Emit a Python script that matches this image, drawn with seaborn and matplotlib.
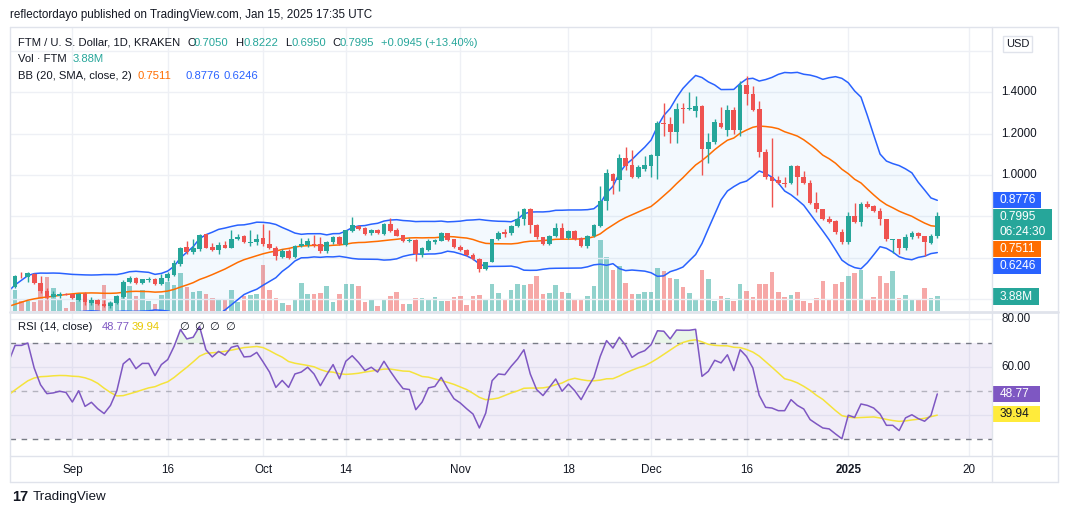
import numpy as np
import pandas as pd
import matplotlib
matplotlib.use("Agg")
import matplotlib.pyplot as plt
from matplotlib.patches import Rectangle
from matplotlib.lines import Line2D
import seaborn as sns

sns.set_theme(style="white")
plt.rcParams['font.family'] = ['Liberation Sans', 'DejaVu Sans']

# ---------------- data ----------------
start_date = "2024-08-23"

opens = [0.460, 0.513, 0.508, 0.521, 0.476, 0.440, 0.412, 0.416, 0.425, 0.423,
         0.397, 0.425, 0.383, 0.395, 0.376, 0.366, 0.383, 0.410, 0.483, 0.502,
         0.478, 0.494, 0.497, 0.474, 0.500, 0.518, 0.570, 0.652, 0.627, 0.640,
         0.713, 0.652, 0.635, 0.660, 0.648, 0.690, 0.703, 0.673, 0.675, 0.697,
         0.665, 0.646, 0.602, 0.632, 0.605, 0.656, 0.660, 0.668, 0.666, 0.630,
         0.675, 0.702, 0.662, 0.730, 0.755, 0.745, 0.718, 0.733, 0.716, 0.762,
         0.732, 0.708, 0.682, 0.684, 0.615, 0.638, 0.678, 0.683, 0.718, 0.688,
         0.652, 0.636, 0.614, 0.596, 0.545, 0.580, 0.688, 0.722, 0.717, 0.755,
         0.787, 0.835, 0.760, 0.698, 0.667, 0.703, 0.745, 0.693, 0.730, 0.693,
         0.658, 0.705, 0.755, 0.876, 1.005, 0.976, 1.080, 1.047, 0.992, 1.030,
         1.045, 1.093, 1.253, 1.248, 1.210, 1.322, 1.318, 1.312, 1.335, 1.124,
         1.160, 1.253, 1.220, 1.314, 1.220, 1.435, 1.390, 1.318, 1.110, 0.990,
         0.975, 0.962, 0.960, 1.043, 0.992, 0.963, 0.866, 0.835, 0.787, 0.776,
         0.726, 0.676, 0.800, 0.775, 0.862, 0.848, 0.826, 0.785, 0.686, 0.689,
         0.648, 0.702, 0.721, 0.703, 0.672, 0.705]
highs = [0.515, 0.529, 0.532, 0.524, 0.510, 0.452, 0.437, 0.433, 0.428, 0.426,
         0.430, 0.435, 0.410, 0.398, 0.395, 0.390, 0.420, 0.490, 0.512, 0.505,
         0.498, 0.505, 0.500, 0.520, 0.530, 0.588, 0.652, 0.680, 0.690, 0.715,
         0.716, 0.670, 0.675, 0.680, 0.735, 0.715, 0.708, 0.735, 0.715, 0.762,
         0.735, 0.655, 0.640, 0.640, 0.660, 0.696, 0.697, 0.710, 0.700, 0.680,
         0.705, 0.705, 0.735, 0.798, 0.760, 0.748, 0.740, 0.737, 0.766, 0.790,
         0.742, 0.712, 0.697, 0.688, 0.650, 0.690, 0.690, 0.726, 0.720, 0.692,
         0.660, 0.640, 0.625, 0.600, 0.580, 0.692, 0.730, 0.737, 0.760, 0.827,
         0.840, 0.838, 0.765, 0.702, 0.710, 0.766, 0.766, 0.735, 0.735, 0.700,
         0.710, 0.765, 0.947, 1.027, 1.010, 1.100, 1.134, 1.120, 1.050, 1.090,
         1.100, 1.260, 1.350, 1.280, 1.350, 1.350, 1.400, 1.380, 1.340, 1.205,
         1.270, 1.330, 1.340, 1.330, 1.456, 1.479, 1.430, 1.360, 1.125, 1.180,
         0.995, 0.990, 1.050, 1.048, 1.020, 0.975, 0.920, 0.836, 0.800, 0.780,
         0.737, 0.820, 0.863, 0.870, 0.875, 0.856, 0.838, 0.788, 0.692, 0.692,
         0.715, 0.730, 0.725, 0.705, 0.715, 0.8222]
lows = [0.455, 0.502, 0.484, 0.472, 0.428, 0.400, 0.408, 0.406, 0.418, 0.398,
        0.392, 0.370, 0.370, 0.370, 0.360, 0.358, 0.378, 0.405, 0.478, 0.475,
        0.475, 0.480, 0.470, 0.470, 0.488, 0.510, 0.560, 0.620, 0.620, 0.630,
        0.645, 0.630, 0.620, 0.645, 0.645, 0.685, 0.670, 0.658, 0.663, 0.658,
        0.640, 0.590, 0.598, 0.592, 0.600, 0.650, 0.650, 0.650, 0.625, 0.625,
        0.665, 0.660, 0.655, 0.725, 0.735, 0.710, 0.712, 0.715, 0.712, 0.725,
        0.703, 0.675, 0.676, 0.585, 0.605, 0.633, 0.665, 0.680, 0.680, 0.645,
        0.630, 0.610, 0.590, 0.530, 0.540, 0.578, 0.685, 0.700, 0.710, 0.750,
        0.760, 0.720, 0.690, 0.660, 0.660, 0.698, 0.688, 0.688, 0.686, 0.651,
        0.645, 0.700, 0.750, 0.830, 0.910, 0.924, 1.025, 0.985, 0.985, 1.020,
        0.990, 0.980, 1.190, 1.155, 1.155, 1.250, 1.315, 1.280, 1.000, 1.060,
        1.150, 1.225, 1.190, 1.200, 1.190, 1.340, 1.310, 1.088, 0.980, 0.847,
        0.955, 0.940, 0.955, 0.905, 0.958, 0.862, 0.822, 0.782, 0.768, 0.715,
        0.668, 0.668, 0.768, 0.755, 0.838, 0.820, 0.758, 0.683, 0.625, 0.618,
        0.635, 0.690, 0.696, 0.608, 0.665, 0.695]
closes = [0.510, 0.509, 0.524, 0.478, 0.440, 0.410, 0.425, 0.424, 0.421, 0.405,
          0.426, 0.385, 0.393, 0.374, 0.365, 0.382, 0.415, 0.480, 0.500, 0.478,
          0.495, 0.497, 0.473, 0.504, 0.520, 0.572, 0.647, 0.627, 0.645, 0.710,
          0.648, 0.635, 0.660, 0.648, 0.690, 0.702, 0.675, 0.675, 0.690, 0.665,
          0.646, 0.606, 0.632, 0.600, 0.658, 0.665, 0.682, 0.662, 0.630, 0.677,
          0.702, 0.668, 0.734, 0.758, 0.740, 0.716, 0.732, 0.720, 0.762, 0.730,
          0.707, 0.683, 0.684, 0.620, 0.645, 0.680, 0.685, 0.718, 0.685, 0.651,
          0.635, 0.614, 0.595, 0.545, 0.578, 0.688, 0.720, 0.716, 0.754, 0.787,
          0.835, 0.758, 0.698, 0.667, 0.705, 0.745, 0.692, 0.730, 0.690, 0.657,
          0.706, 0.757, 0.876, 1.008, 0.973, 1.080, 1.045, 0.990, 1.037, 1.048,
          1.097, 1.253, 1.246, 1.210, 1.320, 1.318, 1.322, 1.335, 1.124, 1.160,
          1.255, 1.230, 1.314, 1.220, 1.435, 1.390, 1.315, 1.110, 0.990, 0.973,
          0.960, 0.958, 1.044, 0.992, 0.963, 0.866, 0.835, 0.786, 0.774, 0.726,
          0.676, 0.800, 0.775, 0.862, 0.845, 0.826, 0.785, 0.690, 0.689, 0.648,
          0.702, 0.721, 0.703, 0.675, 0.705, 0.7995]
volume_m = [5.4, 2.6, 2.6, 2.3, 6.5, 8.8, 6.0, 2.8, 0.8, 2.3,
            4.7, 4.7, 2.6, 2.6, 6.7, 2.3, 3.1, 5.2, 6.5, 3.9,
            5.4, 2.6, 1.8, 4.1, 7.5, 6.7, 9.8, 6.2, 4.9, 5.2,
            4.4, 3.4, 3.1, 2.8, 5.4, 2.3, 3.9, 4.1, 4.4, 11.9,
            5.4, 3.4, 2.1, 1.6, 3.1, 7.2, 4.4, 4.4, 4.7, 6.5,
            2.3, 4.4, 7.0, 7.0, 6.5, 2.3, 3.1, 1.3, 3.1, 3.9,
            4.9, 1.8, 1.8, 3.4, 3.4, 2.8, 3.6, 2.6, 2.6, 3.6,
            3.9, 1.6, 3.9, 4.1, 3.1, 7.0, 4.7, 2.8, 5.4, 7.0,
            6.7, 7.0, 9.1, 4.4, 4.7, 6.7, 4.9, 4.7, 3.1, 3.1,
            3.9, 6.5, 18.4, 14.0, 10.6, 11.6, 7.2, 4.4, 4.4, 4.9,
            4.9, 11.1, 10.3, 8.5, 8.3, 6.2, 4.7, 2.8, 10.6, 8.3,
            2.6, 3.9, 3.4, 2.6, 7.0, 5.2, 3.6, 7.0, 7.0, 10.1,
            4.9, 3.6, 4.1, 4.9, 2.6, 2.1, 3.4, 7.8, 3.1, 7.0,
            7.5, 9.1, 9.8, 10.6, 2.8, 3.6, 9.1, 7.2, 10.3, 3.4,
            4.1, 2.8, 2.8, 6.0, 3.4, 3.88]
# closes of the 20 days before the first visible candle (Aug 3 - Aug 22)
prior_closes = [0.310, 0.315, 0.330, 0.345, 0.335, 0.340, 0.350, 0.340, 0.335, 0.345,
                0.360, 0.370, 0.380, 0.385, 0.390, 0.385, 0.390, 0.400, 0.430, 0.460]
# RSI(14) from Aug 22 to Jan 15
rsi_values = [62.3, 69.0, 69.0, 70.0, 59.6, 52.6, 48.9, 49.2, 49.9, 49.4,
              45.4, 50.1, 43.6, 45.3, 42.6, 40.6, 44.0, 50.1, 61.3, 63.5,
              59.3, 61.5, 61.5, 56.4, 61.0, 63.1, 68.6, 75.6, 71.7, 72.4,
              76.9, 67.2, 64.2, 66.5, 64.9, 68.2, 68.9, 64.2, 64.4, 66.1,
              62.1, 57.9, 51.5, 54.4, 51.5, 57.1, 57.9, 59.9, 57.1, 52.2,
              56.8, 61.0, 55.1, 62.4, 64.7, 61.9, 58.5, 59.9, 57.9, 62.4,
              58.2, 54.4, 51.0, 50.6, 42.2, 45.4, 51.3, 51.9, 55.7, 51.0,
              46.8, 45.0, 42.6, 40.4, 34.6, 40.8, 54.3, 57.1, 56.8, 60.3,
              63.3, 67.2, 57.1, 50.6, 48.1, 51.5, 55.0, 49.9, 52.9, 50.1,
              46.4, 51.3, 55.7, 64.4, 71.0, 67.9, 72.4, 69.0, 64.0, 65.8,
              66.8, 69.3, 75.1, 74.9, 71.7, 75.4, 75.3, 75.3, 75.7, 56.1,
              58.2, 62.8, 61.7, 65.1, 58.5, 67.2, 64.4, 59.6, 48.2, 43.2,
              42.9, 41.8, 41.8, 46.4, 44.0, 42.5, 38.1, 36.3, 34.6, 34.2,
              32.1, 30.1, 39.9, 39.0, 44.6, 44.0, 42.9, 40.4, 35.7, 35.7,
              33.5, 38.8, 40.1, 38.5, 37.4, 39.8, 48.77]
# RSI values of the 13 days before Aug 22 (for the RSI moving average)
rsi_prior = [40, 42, 44, 43, 45, 47, 46, 48, 50, 49, 52, 51, 58]

tick_dates = ['2024-09-01', '2024-09-16', '2024-10-01', '2024-10-14', '2024-11-01',
              '2024-11-18', '2024-12-01', '2024-12-16', '2025-01-01', '2025-01-20']
tick_labels = ['Sep', '16', 'Oct', '14', 'Nov', '18', 'Dec', '16', '2025', '20']

# ---------------- derived ----------------
o = np.array(opens); h = np.array(highs); l = np.array(lows); c = np.array(closes)
n = len(c)
idx = np.arange(n)
t0 = pd.Timestamp(start_date)
tick_pos = [(pd.Timestamp(d) - t0).days for d in tick_dates]

allc = pd.Series(prior_closes + closes)
basis = allc.rolling(20).mean()
sd = allc.rolling(20).std(ddof=0)
bb_x = np.arange(len(allc)) - len(prior_closes)
mask = bb_x >= -1
bb_x = bb_x[mask]
bb_mid = basis.values[mask]
bb_up = (basis + 2 * sd).values[mask]
bb_lo = (basis - 2 * sd).values[mask]

rsi_all = pd.Series(rsi_prior + rsi_values)
rsi_ma = rsi_all.rolling(14).mean().values[len(rsi_prior):]
rsi = np.array(rsi_values)
rsi_x = np.arange(len(rsi)) - 1

GREEN = '#26a69a'
RED = '#ef5350'
up = c >= o
cols = np.where(up, GREEN, RED)

# ---------------- figure ----------------
W, H = 1068, 515
fig = plt.figure(figsize=(W / 100, H / 100), dpi=100)
fig.patch.set_facecolor('white')


def frect(x0, y0, x1, y1):
    return [x0 / W, 1 - y1 / H, (x1 - x0) / W, (y1 - y0) / H]


XL = (-0.80, 153.6)
PR = (1 - (311 - 175) / 206.7, 1 + (175 - 27) / 206.7)

ax_vol = fig.add_axes(frect(10, 27, 992, 311))
ax = fig.add_axes(frect(10, 27, 992, 311))
ax_rsi = fig.add_axes(frect(10, 313, 992, 456))
ax.patch.set_visible(False)
for a in (ax_vol, ax, ax_rsi):
    a.set_xlim(*XL)
    for s in a.spines.values():
        s.set_visible(False)
    a.set_yticks([])
    a.tick_params(length=0)
ax.set_xticks([])
ax_vol.set_xticks([])

GRID = '#eef0f5'
for p in tick_pos:
    ax_vol.axvline(p, color=GRID, lw=1, zorder=0)
    ax_rsi.axvline(p, color=GRID, lw=1, zorder=0)
ax.set_ylim(*PR)
for g in [0.4, 0.6, 0.8, 1.0, 1.2, 1.4, 1.6]:
    ax.axhline(g, color=GRID, lw=1, zorder=0)

# volume
ax_vol.bar(idx, volume_m, width=0.72, color=cols, alpha=0.5, lw=0, zorder=2)
ax_vol.set_ylim(0, 283 * 0.2587)

# Bollinger bands
ax.fill_between(bb_x, bb_lo, bb_up, color='#2196F3', alpha=0.05, lw=0, zorder=1)
sns.lineplot(x=bb_x, y=bb_up, ax=ax, color='#2962FF', lw=1.1, zorder=3, legend=False)
sns.lineplot(x=bb_x, y=bb_lo, ax=ax, color='#2962FF', lw=1.1, zorder=3, legend=False)
sns.lineplot(x=bb_x, y=bb_mid, ax=ax, color='#FF6D00', lw=1.1, zorder=3, legend=False)

# candles
ax.vlines(idx, l, h, colors=cols, lw=1.0, zorder=4)
body_bottom = np.minimum(o, c)
body_h = np.maximum(np.abs(c - o), 0.003)
ax.bar(idx, body_h, bottom=body_bottom, width=0.74, color=cols, lw=0, zorder=5)
ax.set_ylim(*PR)
ax.set_xlim(*XL)

# RSI pane
ax_rsi.set_ylim(70 - (456 - 343) / 2.4, 70 + (343 - 313) / 2.4)
for g in [40, 60, 80]:
    ax_rsi.axhline(g, color=GRID, lw=1, zorder=0)
ax_rsi.axhspan(30, 70, color='#7E57C2', alpha=0.1, lw=0, zorder=1)
ax_rsi.axhline(70, color='#787B86', lw=1, ls=(0, (4, 4)), zorder=2)
ax_rsi.axhline(30, color='#787B86', lw=1, ls=(0, (4, 4)), zorder=2)
ax_rsi.axhline(50, color='#787B86', lw=1, ls=(0, (4, 4)), alpha=0.5, zorder=2)
ax_rsi.fill_between(rsi_x, 70, rsi, where=rsi >= 70, interpolate=True,
                    color='#4CAF50', alpha=0.12, lw=0, zorder=2)
sns.lineplot(x=rsi_x, y=rsi_ma, ax=ax_rsi, color='#F5E33B', lw=1.1, zorder=3, legend=False)
sns.lineplot(x=rsi_x, y=rsi, ax=ax_rsi, color='#7E57C2', lw=1.1, zorder=4, legend=False)
ax_rsi.set_xlim(*XL)
ax_rsi.set_xticks(tick_pos)
ax_rsi.set_xticklabels(tick_labels, fontsize=8.4, color='#131722')
ax_rsi.tick_params(axis='x', length=0, pad=6)
for t in ax_rsi.get_xticklabels():
    if t.get_text() == '2025':
        t.set_fontweight('bold')
ax_rsi.set_xlabel('')
ax.set_xlabel('')
ax.set_ylabel('')
ax_rsi.set_ylabel('')

# frame lines
BORDER = '#e0e3eb'
def hline(y, x0, x1, lw=1.0, col=BORDER):
    fig.add_artist(Line2D([x0 / W, x1 / W], [1 - y / H, 1 - y / H], color=col, lw=lw))
def vline(x, y0, y1, lw=1.0, col=BORDER):
    fig.add_artist(Line2D([x / W, x / W], [1 - y0 / H, 1 - y1 / H], color=col, lw=lw))

hline(27, 10, 1058)
hline(482, 10, 1058)
vline(10, 27, 482)
vline(1058, 27, 482)
hline(312, 10, 1058, lw=2.0)
hline(456, 10, 1058)
vline(992, 27, 482)

# ---------------- texts ----------------
DARK = '#131722'
LS = 8.1
def ftxt(x, y, s, color=DARK, size=LS, ha='left', weight='normal', **kw):
    fig.text(x / W, 1 - y / H, s, color=color, fontsize=size, ha=ha, va='center',
             fontweight=weight, **kw)

ftxt(10, 15, 'reflectordayo published on TradingView.com, Jan 15, 2025 17:35 UTC', size=8.4)

ftxt(18, 42.5, 'FTM / U. S. Dollar, 1D, KRAKEN')
ftxt(187, 42.5, 'O'); ftxt(194, 42.5, f'{opens[-1]:.4f}', color=GREEN)
ftxt(235, 42.5, 'H'); ftxt(243, 42.5, f'{highs[-1]:.4f}', color=GREEN)
ftxt(285, 42.5, 'L'); ftxt(291, 42.5, f'{lows[-1]:.4f}', color=GREEN)
ftxt(332, 42.5, 'C'); ftxt(339, 42.5, f'{closes[-1]:.4f}', color=GREEN)
chg = closes[-1] - closes[-2]
ftxt(381, 42.5, f'+{chg:.4f} (+{chg / closes[-2] * 100:.2f}%)', color=GREEN)
ftxt(18, 59.5, 'Vol · FTM')
ftxt(73, 59.5, f'{volume_m[-1]:.2f}M', color=GREEN)
ftxt(18, 76, 'BB (20, SMA, close, 2)')
ftxt(138, 76, f'{bb_mid[-1]:.4f}', color='#FF6D00')
ftxt(186, 76, f'{bb_up[-1]:.4f}', color='#2962FF')
ftxt(223, 76, f'{bb_lo[-1]:.4f}', color='#2962FF')

ftxt(18, 327, 'RSI (14, close)')
ftxt(102, 327, f'{rsi[-1]:.2f}', color='#7E57C2')
ftxt(132, 327, f'{rsi_ma[-1]:.2f}', color='#E8C800')
for xx in (179, 194, 209, 225):
    ftxt(xx, 327, '∅')

# price scale labels
for val in (1.4, 1.2, 1.0):
    ypx = 175 - (val - 1.0) * 206.7
    ftxt(1001, ypx, f'{val:.4f}', size=8.4)
ftxt(1001, 319, '80.00', size=8.4)
ftxt(1001, 367, '60.00', size=8.4)

# USD box
fig.add_artist(Rectangle((1003 / W, 1 - 52 / H), 29 / W, 16 / H, transform=fig.transFigure,
                         facecolor='white', edgecolor=BORDER, lw=1))
ftxt(1017.5, 44, 'USD', size=8.0, ha='center')


def box(y0, y1, fc, lines, tc='white', x0=993, x1=1041):
    fig.add_artist(Rectangle((x0 / W, 1 - y1 / H), (x1 - x0) / W, (y1 - y0) / H,
                             transform=fig.transFigure, facecolor=fc, edgecolor='none'))
    nl = len(lines)
    for k, s in enumerate(lines):
        yy = y0 + (y1 - y0) * (k + 0.5) / nl
        ftxt(x0 + 7, yy, s, color=tc, size=8.6)


box(192, 208, '#2962FF', [f'{bb_up[-1]:.4f}'])
box(209, 240, GREEN, [f'{closes[-1]:.4f}', '06:24:30'], x1=1052)
box(241, 257, '#FF6D00', [f'{bb_mid[-1]:.4f}'])
box(258, 274, '#2962FF', [f'{bb_lo[-1]:.4f}'])
box(288, 305, GREEN, [f'{volume_m[-1]:.2f}M'], x1=1039)
box(386, 402, '#7E57C2', [f'{rsi[-1]:.2f}'], x1=1040)
box(406, 422, '#FFEB3B', [f'{rsi_ma[-1]:.2f}'], tc=DARK, x1=1040)

# TradingView logo
ftxt(12, 497, '17', size=10.5, weight='bold')
ftxt(33, 497, 'TradingView', size=9.6)

fig.savefig('out.png', dpi=100, facecolor='white')
